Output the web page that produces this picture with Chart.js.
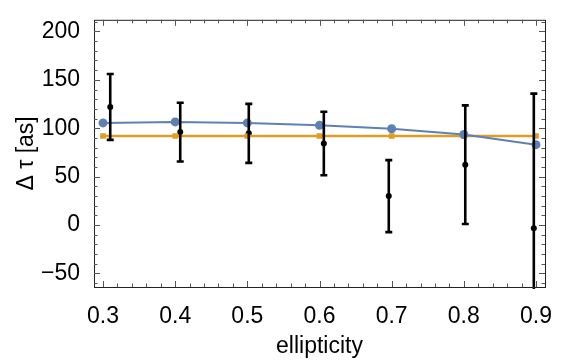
<!DOCTYPE html>
<html>
<head>
<meta charset="utf-8">
<script src="https://cdn.jsdelivr.net/npm/chart.js@4.4.1/dist/chart.umd.min.js"></script>
<style>
  html, body { margin: 0; padding: 0; background: #fff; }
</style>
</head>
<body>
<canvas id="chart" width="568" height="360"></canvas>
<script>
// model curves at each ellipticity
const ellipticity = [0.3, 0.4, 0.5, 0.6, 0.7, 0.8, 0.9];
const modelBlue = [105.5, 106.5, 105.5, 103, 99.5, 93.5, 83];
const modelOrange = [92, 92, 92, 92, 92, 92, 92];

// measured points with symmetric error bars
const measX = [0.31, 0.407, 0.502, 0.606, 0.696, 0.802, 0.897];
const measY = [122, 96, 94.7, 84.2, 29.9, 62.3, -3.3];
const measErr = [34, 30.3, 30.5, 32.8, 37.2, 61.3, 139];

const xTicks = [0.3, 0.4, 0.5, 0.6, 0.7, 0.8, 0.9];
const yTicks = [-50, 0, 50, 100, 150, 200];

const font = "'Liberation Sans', Arial, sans-serif";
const blue = '#5E81B5', orange = '#E19C24';

const toPts = (xs, ys) => xs.map((x, i) => ({ x, y: ys[i] }));

// error bars + Mathematica-style frame with inward ticks
const framePlugin = {
  id: 'frame',
  afterDatasetsDraw(chart) {
    const { ctx, chartArea: a, scales: { x, y } } = chart;
    ctx.save();
    ctx.beginPath();
    ctx.rect(a.left, a.top, a.right - a.left, a.bottom - a.top + 2);
    ctx.clip();
    ctx.strokeStyle = '#000';
    ctx.lineWidth = 2.6;
    measX.forEach((mx, i) => {
      const px = x.getPixelForValue(mx);
      const hi = y.getPixelForValue(measY[i] + measErr[i]);
      const lo = y.getPixelForValue(measY[i] - measErr[i]);
      ctx.beginPath();
      ctx.moveTo(px, hi); ctx.lineTo(px, lo);
      ctx.moveTo(px - 3.5, hi); ctx.lineTo(px + 3.5, hi);
      ctx.moveTo(px - 3.5, lo); ctx.lineTo(px + 3.5, lo);
      ctx.stroke();
    });
    ctx.restore();
  },
  afterDraw(chart) {
    const { ctx, chartArea: a, scales: { x, y } } = chart;
    ctx.save();
    ctx.strokeStyle = '#222';
    ctx.lineWidth = 1;
    ctx.strokeRect(a.left + 0.5, a.top + 0.5, a.right - a.left, a.bottom - a.top);
    ctx.strokeStyle = '#555';
    ctx.beginPath();
    for (let k = 0; k <= 30; k++) {
      const v = 0.3 + k * 0.02;
      const px = Math.round(x.getPixelForValue(v)) + 0.5;
      const len = k % 5 === 0 ? 6 : 3.5;
      ctx.moveTo(px, a.bottom); ctx.lineTo(px, a.bottom - len);
      ctx.moveTo(px, a.top); ctx.lineTo(px, a.top + len);
    }
    for (let v = -60; v <= 210; v += 10) {
      const py = Math.round(y.getPixelForValue(v)) + 0.5;
      const len = v % 50 === 0 ? 6 : 3.5;
      ctx.moveTo(a.left, py); ctx.lineTo(a.left + len, py);
      ctx.moveTo(a.right, py); ctx.lineTo(a.right - len, py);
    }
    ctx.stroke();
    ctx.restore();
  }
};

new Chart(document.getElementById('chart'), {
  type: 'scatter',
  data: {
    datasets: [
      {
        data: toPts(ellipticity, modelBlue), showLine: true,
        borderColor: blue, backgroundColor: blue, borderWidth: 2,
        pointRadius: 4.5, pointBorderWidth: 0, pointStyle: 'circle'
      },
      {
        data: toPts(ellipticity, modelOrange), showLine: true,
        borderColor: orange, backgroundColor: orange, borderWidth: 2.5,
        pointRadius: 4, pointBorderWidth: 0, pointStyle: 'rect'
      },
      {
        data: toPts(measX, measY), showLine: false,
        backgroundColor: '#000', borderColor: '#000',
        pointRadius: 3, pointBorderWidth: 0
      }
    ]
  },
  options: {
    responsive: false, animation: false, devicePixelRatio: 1,
    layout: { padding: { top: 9, right: 23, left: 0, bottom: 0 } },
    plugins: { legend: { display: false }, tooltip: { enabled: false } },
    scales: {
      x: {
        type: 'linear', min: 0.2875, max: 0.9125,
        afterBuildTicks: s => { s.ticks = xTicks.map(v => ({ value: v })); },
        afterFit: s => { s.height = 73; },
        grid: { display: false }, border: { display: false },
        ticks: {
          color: '#000', font: { family: font, size: 23 }, padding: 8,
          maxRotation: 0, autoSkip: false, callback: v => v.toFixed(1)
        },
        title: {
          display: true, text: 'ellipticity', color: '#000',
          font: { family: font, size: 23 }, padding: { top: 0, bottom: 0 }
        }
      },
      y: {
        min: -64, max: 212,
        afterBuildTicks: s => { s.ticks = yTicks.map(v => ({ value: v })); },
        afterFit: s => { s.width = 94; },
        grid: { display: false }, border: { display: false },
        ticks: {
          color: '#000', font: { family: font, size: 23 }, padding: 6,
          autoSkip: false, callback: v => (v < 0 ? '\u2212' + Math.abs(v) : String(v))
        },
        title: {
          display: true, text: 'Δ τ [as]', color: '#000',
          font: { family: font, size: 23 }, padding: { top: 13, bottom: 0 }
        }
      }
    }
  },
  plugins: [framePlugin]
});
</script>
</body>
</html>
